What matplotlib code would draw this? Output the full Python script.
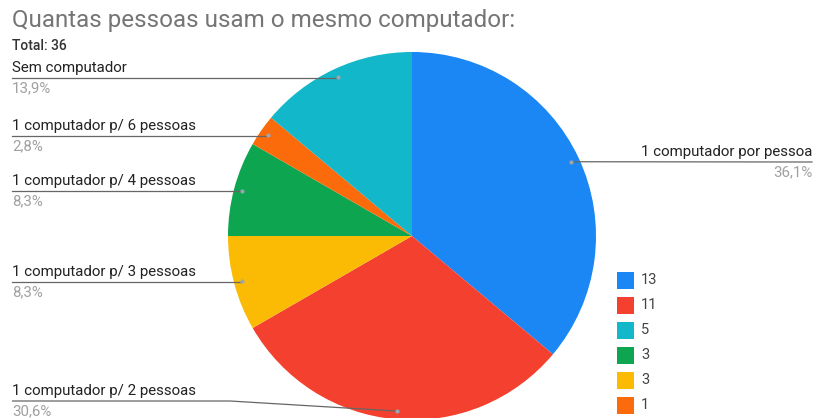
import numpy as np
import matplotlib
matplotlib.use("Agg")
import matplotlib.pyplot as plt
from matplotlib.patches import Rectangle

# Survey answers, in drawing order (clockwise from 12 o'clock)
categories = [
    "1 computador por pessoa",
    "1 computador p/ 2 pessoas",
    "1 computador p/ 3 pessoas",
    "1 computador p/ 4 pessoas",
    "1 computador p/ 6 pessoas",
    "Sem computador",
]
counts = [13, 11, 3, 3, 1, 5]
colors = ["#1a87f5", "#f4402f", "#fbbb05", "#0ea550", "#fb6a0b", "#12b7c9"]

# Legend entries, largest first
legend_order = [
    "1 computador por pessoa",
    "1 computador p/ 2 pessoas",
    "Sem computador",
    "1 computador p/ 4 pessoas",
    "1 computador p/ 3 pessoas",
    "1 computador p/ 6 pessoas",
]

title = "Quantas pessoas usam o mesmo computador:"
total_label = "Total: 36"

plt.rcParams["font.family"] = ["Roboto", "DejaVu Sans"]

W, H = 813, 418
fig = plt.figure(figsize=(W / 100, H / 100), dpi=100)
ax = fig.add_axes([0, 0, 1, 1])


def Y(y_img):
    """Convert top-down pixel row to axis y (bottom-up)."""
    return H - y_img


cx, cy, R = 412, Y(236), 184
wedges, _ = ax.pie(counts, colors=colors, startangle=90, counterclock=False,
                   center=(cx, cy), radius=R, frame=True,
                   wedgeprops=dict(linewidth=0))
ax.set_xlim(0, W)
ax.set_ylim(0, H)
ax.set_aspect("equal")
ax.axis("off")

total = sum(counts)

# Label placement: (text x, text y row, side)
layout = {
    "1 computador por pessoa": (812, 152, "right"),
    "1 computador p/ 2 pessoas": (12, 391, "left"),
    "1 computador p/ 3 pessoas": (12, 272, "left"),
    "1 computador p/ 4 pessoas": (12, 181, "left"),
    "1 computador p/ 6 pessoas": (12, 126, "left"),
    "Sem computador": (12, 68, "left"),
}

label_fs = 10.8
line_col = "#666666"
for w, name, n in zip(wedges, categories, counts):
    mid = np.deg2rad((w.theta1 + w.theta2) / 2)
    dx_, dy_ = cx + 0.955 * R * np.cos(mid), cy + 0.955 * R * np.sin(mid)
    tx, ty, side = layout[name]
    line_y = ty + 10
    pct = f"{100 * n / total:.1f}%".replace(".", ",")
    if side == "left":
        if abs(Y(line_y) - dy_) > 3:
            ax.plot([12, 230, dx_], [Y(line_y), Y(line_y), dy_],
                    color=line_col, lw=0.9, solid_capstyle="butt")
        else:
            ax.plot([12, dx_], [Y(line_y), Y(line_y)], color=line_col, lw=0.9)
        ax.text(tx, Y(ty), name, ha="left", va="center", fontsize=label_fs,
                color="#222222")
        ax.text(tx, Y(ty + 20), pct, ha="left", va="center",
                fontsize=label_fs, color="#a0a0a0")
    else:
        ax.plot([dx_, 812], [dy_, Y(line_y)], color=line_col, lw=0.9)
        ax.text(tx, Y(ty), name, ha="right", va="center", fontsize=label_fs,
                color="#222222")
        ax.text(tx, Y(ty + 20), pct, ha="right", va="center",
                fontsize=label_fs, color="#a0a0a0")
    ax.plot([dx_], [dy_], "o", ms=3, color="#9aa6b0", mec="none")

# Title and total
ax.text(12, Y(21), title, ha="left", va="center", fontsize=17.4,
        color="#757575")
ax.text(12, Y(46), total_label, ha="left", va="center", fontsize=10,
        color="#333333", fontweight="medium")

# Legend sorted by count
for k, name in enumerate(legend_order):
    i = categories.index(name)
    yc = 280 + 25 * k
    ax.add_patch(Rectangle((617, Y(yc + 8.5)), 17, 17, color=colors[i],
                           lw=0))
    ax.text(641, Y(yc), str(counts[i]), ha="left", va="center",
            fontsize=10.5, color="#444444")

fig.savefig("out.png", dpi=100)
